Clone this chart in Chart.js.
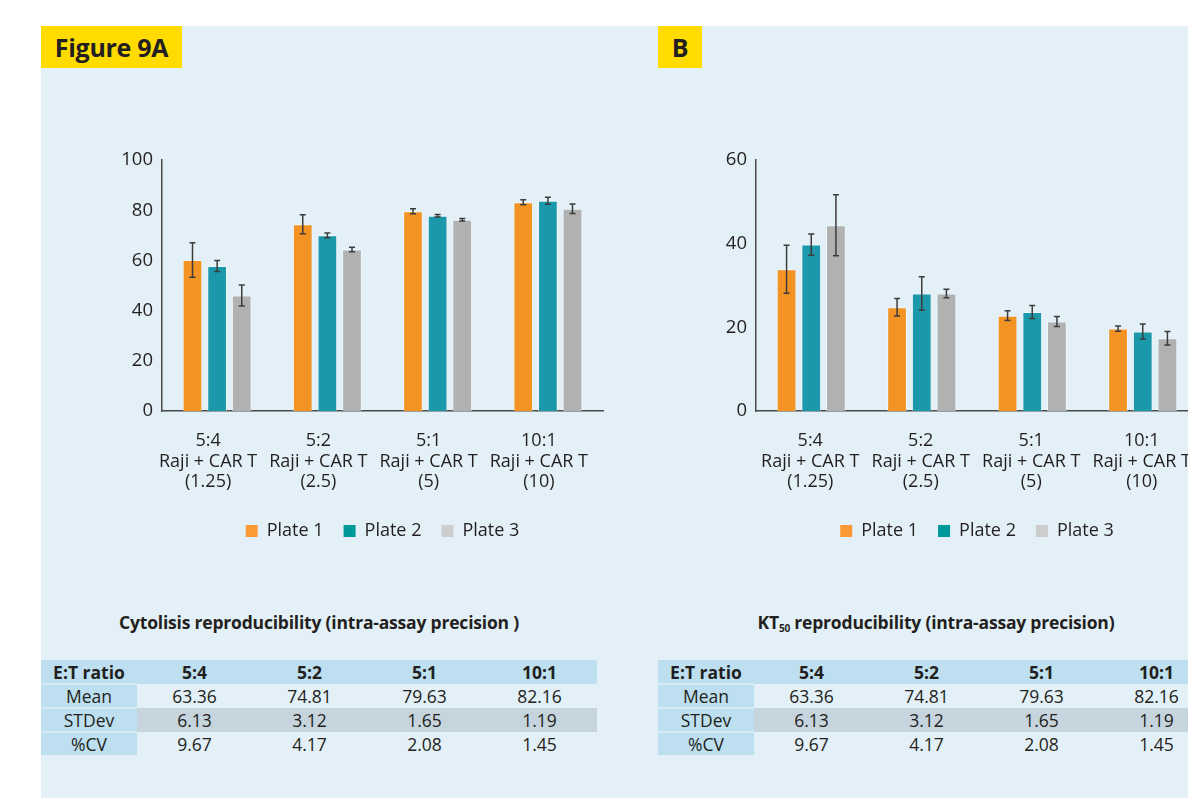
<!DOCTYPE html>
<html>
<head>
<meta charset="utf-8">
<title>Figure 9</title>
<script src="https://cdn.jsdelivr.net/npm/chart.js@4.4.1/dist/chart.umd.min.js"></script>
<style>
  body {
    margin: 0;
    width: 1188px;
    height: 798px;
    overflow: hidden;
    position: relative;
    background: #fff;
    font-family: "Open Sans", sans-serif;
    color: #231f20;
  }
  #panel { position: absolute; left: 41px; top: 26px; width: 1147px; height: 772px; background: #e3f0f7; }
  .tag {
    position: absolute; top: 26px; height: 42px;
    background: #ffdb00; font-weight: 700; font-size: 25px;
    line-height: 42px; text-align: center; letter-spacing: -0.3px;
  }
  #tagA { left: 41px; width: 141px; }
  #tagB { left: 658px; width: 44px; }
  .plot { position: absolute; top: 140px; width: 520px; height: 410px; }
  #plotA { left: 100px; }
  #plotB { left: 700px; }
  .caption {
    position: absolute; top: 610px; width: 520px;
    font-weight: 700; font-size: 17.5px; line-height: 24px; text-align: center;
    letter-spacing: -0.2px;
  }
  #capA { left: 59px; }
  #capB { left: 676px; }
  .caption sub { font-size: 10px; vertical-align: -3px; }
  table.stats {
    position: absolute; top: 660px; width: 556px;
    border-collapse: collapse; table-layout: fixed;
    font-size: 17.5px;
  }
  #tabA { left: 41px; }
  #tabB { left: 658px; }
  table.stats td, table.stats th {
    padding: 0; line-height: 22px; text-align: center;
  }
  table.stats th { height: 23px; font-weight: 700; background: #bddff0; }
  table.stats td { height: 22px; }
  table.stats td.lbl { background: #bddff0; border-top: 2px solid #d6ebf5; width: 96px; }
  table.stats tr.grey td.val { background: #c6d4dd; }
</style>
</head>
<body>
<div id="panel"></div>
<div class="tag" id="tagA">Figure 9A</div>
<div class="tag" id="tagB">B</div>

<div class="plot" id="plotA"><canvas id="chartA"></canvas></div>
<div class="plot" id="plotB"><canvas id="chartB"></canvas></div>

<div class="caption" id="capA">Cytolisis reproducibility (intra-assay precision )</div>
<div class="caption" id="capB">KT<sub>50</sub> reproducibility (intra-assay precision)</div>

<table class="stats" id="tabA"></table>
<table class="stats" id="tabB"></table>

<script>
// E:T ratios and target dilutions on the x axis
const ratios = ['5:4', '5:2', '5:1', '10:1'];
const dilutions = ['(1.25)', '(2.5)', '(5)', '(10)'];
const plates = ['Plate 1', 'Plate 2', 'Plate 3'];

// A: cytolysis (%) per plate, with error bar half-widths
const cytoPlate1 = [60.2, 74.4, 79.6, 83.2];
const cytoPlate2 = [57.8, 70.0, 77.8, 83.8];
const cytoPlate3 = [46.0, 64.4, 76.2, 80.6];
const cytoErr1 = [6.9, 3.8, 1.0, 1.0];
const cytoErr2 = [2.2, 0.9, 0.5, 1.4];
const cytoErr3 = [4.2, 0.9, 0.5, 1.9];

// B: KT50 per plate
const ktPlate1 = [33.9, 24.8, 22.8, 19.7];
const ktPlate2 = [39.8, 28.1, 23.7, 19.0];
const ktPlate3 = [44.4, 28.1, 21.4, 17.4];
const ktErr1 = [5.75, 2.1, 1.15, 0.6];
const ktErr2 = [2.55, 4.0, 1.55, 1.8];
const ktErr3 = [7.3, 1.0, 1.2, 1.6];

// summary table rows
const statNames = ['Mean', 'STDev', '%CV'];
const meanVals = ['63.36', '74.81', '79.63', '82.16'];
const sdVals = ['6.13', '3.12', '1.65', '1.19'];
const cvVals = ['9.67', '4.17', '2.08', '1.45'];

const barColors = ['#f39324', '#1b98a9', '#b0b1b0'];
const swatchColors = ['#fd9a36', '#009999', '#cdcdcd'];
const ink = '#231f20';
const FONT = '"Open Sans", sans-serif';

// whiskers drawn on top of every bar from the dataset's errors array
const errorBars = {
    id: 'errorBars',
    afterDatasetsDraw(chart) {
        const { ctx } = chart;
        const y = chart.scales.y;
        ctx.save();
        ctx.strokeStyle = '#3c3c3c';
        ctx.lineWidth = 1.5;
        chart.data.datasets.forEach((ds, i) => {
            const meta = chart.getDatasetMeta(i);
            meta.data.forEach((bar, j) => {
                const v = ds.data[j];
                const e = ds.errors[j];
                const top = y.getPixelForValue(v + e);
                const bot = y.getPixelForValue(v - e);
                const x = bar.x;
                ctx.beginPath();
                ctx.moveTo(x, top); ctx.lineTo(x, bot);
                ctx.moveTo(x - 3, top); ctx.lineTo(x + 3, top);
                ctx.moveTo(x - 3, bot); ctx.lineTo(x + 3, bot);
                ctx.stroke();
            });
        });
        ctx.restore();
    }
};

function makeChart(canvasId, series, errors, yMax, axisWidth, padRight, labelShift) {
    const ctx = document.getElementById(canvasId).getContext('2d');
    return new Chart(ctx, {
        type: 'bar',
        data: {
            labels: ratios.map((r, i) => [r, 'Raji + CAR T', dilutions[i]]),
            datasets: series.map((data, i) => ({
                label: plates[i],
                data: data,
                errors: errors[i],
                backgroundColor: barColors[i],
                borderColor: 'rgba(255,255,255,0.45)',
                borderWidth: 1,
                categoryPercentage: 0.67,
                barPercentage: 0.8
            }))
        },
        options: {
            responsive: true,
            maintainAspectRatio: false,
            animation: false,
            layout: { padding: { left: 0, right: padRight, top: 17, bottom: 0 } },
            scales: {
                x: {
                    grid: { display: false, drawTicks: false },
                    border: { display: true, color: '#4a4a4a', width: 1.5 },
                    ticks: {
                        color: ink, padding: 20, labelOffset: labelShift,
                        maxRotation: 0, autoSkip: false,
                        font: { family: FONT, size: 18, lineHeight: 1.14 }
                    },
                    afterFit: s => { s.height = 91; }
                },
                y: {
                    min: 0, max: yMax,
                    grid: { display: false, drawTicks: false },
                    border: { display: true, color: '#4a4a4a', width: 1.5 },
                    ticks: { stepSize: 20, color: ink, padding: 9, font: { family: FONT, size: 18.5 } },
                    afterFit: s => { s.width = axisWidth; }
                }
            },
            plugins: {
                tooltip: { enabled: false },
                legend: {
                    position: 'bottom',
                    fullSize: false,
                    labels: {
                        color: ink, boxWidth: 12, boxHeight: 12, padding: 20,
                        font: { family: FONT, size: 18 },
                        generateLabels: chart => chart.data.datasets.map((ds, i) => ({
                            text: ds.label,
                            fillStyle: swatchColors[i],
                            strokeStyle: swatchColors[i],
                            lineWidth: 0,
                            fontColor: ink,
                            datasetIndex: i
                        }))
                    }
                }
            }
        },
        plugins: [errorBars]
    });
}

makeChart('chartA', [cytoPlate1, cytoPlate2, cytoPlate3], [cytoErr1, cytoErr2, cytoErr3], 100, 62, 17, -9);
makeChart('chartB', [ktPlate1, ktPlate2, ktPlate3], [ktErr1, ktErr2, ktErr3], 60, 56, 22, -1);

// summary tables under each chart
function fillTable(id) {
    const table = document.getElementById(id);
    let html = '<tr><th style="width:96px">E:T ratio</th>' + ratios.map(r => `<th>${r}</th>`).join('') + '</tr>';
    [meanVals, sdVals, cvVals].forEach((row, i) => {
        html += `<tr class="${i === 1 ? 'grey' : ''}"><td class="lbl">${statNames[i]}</td>` +
            row.map(v => `<td class="val">${v}</td>`).join('') + '</tr>';
    });
    table.innerHTML = html;
}
fillTable('tabA');
fillTable('tabB');
</script>
</body>
</html>
